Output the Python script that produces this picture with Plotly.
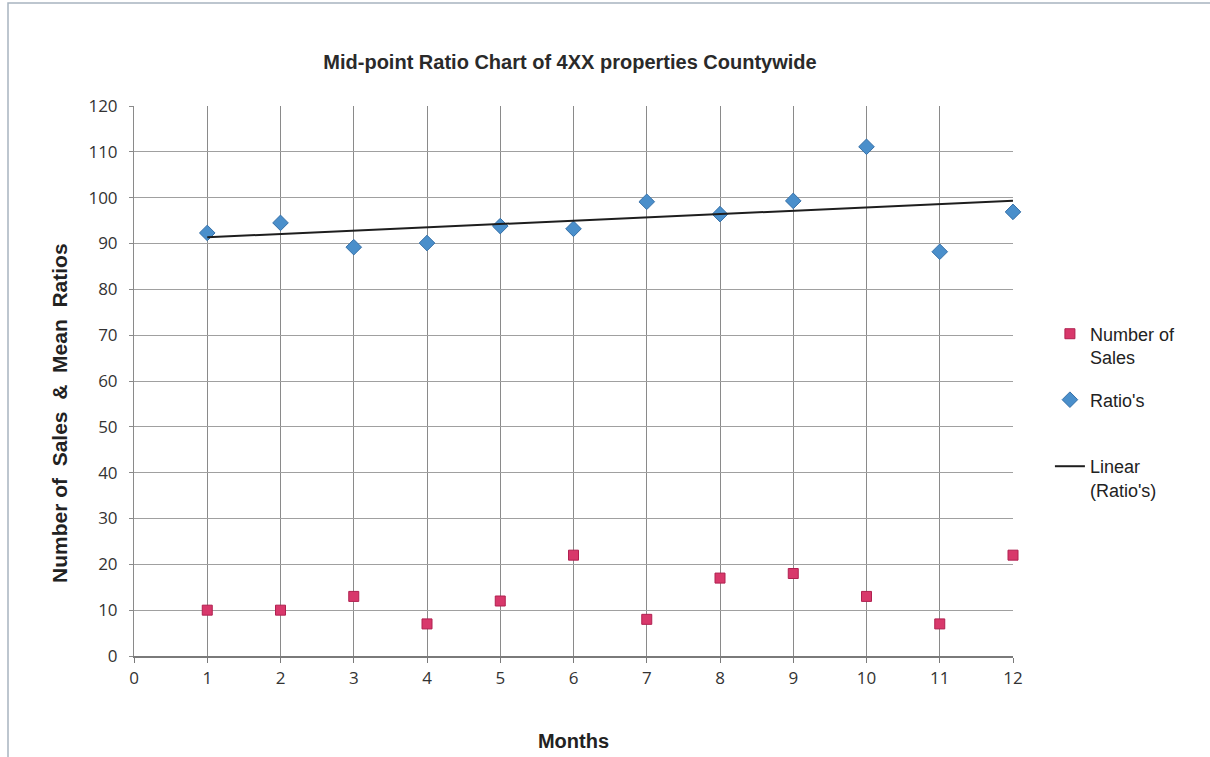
import plotly.graph_objects as go

# Monthly data
months = [1, 2, 3, 4, 5, 6, 7, 8, 9, 10, 11, 12]
number_of_sales = [10, 10, 13, 7, 12, 22, 8, 17, 18, 13, 7, 22]
ratios = [92.3, 94.5, 89.2, 90.1, 93.8, 93.2, 99.1, 96.4, 99.3, 111.1, 88.2, 96.9]

# Least-squares linear trend of the ratios
n = len(months)
mx = sum(months) / n
my = sum(ratios) / n
slope = sum((x - mx) * (y - my) for x, y in zip(months, ratios)) / sum((x - mx) ** 2 for x in months)
intercept = my - slope * mx
trend_x = [months[0], months[-1]]
trend_y = [intercept + slope * x for x in trend_x]

FONT = "Liberation Sans, Arial, sans-serif"
TICKFONT = "Open Sans, sans-serif"
NB = "\u00a0"

fig = go.Figure()
fig.add_trace(go.Scatter(
    x=months, y=number_of_sales, mode="markers", name="Number of<br>Sales",
    legend="legend", cliponaxis=False,
    marker=dict(symbol="square", size=10, color="#D8386B",
                line=dict(color="#B02050", width=1)),
))
fig.add_trace(go.Scatter(
    x=months, y=ratios, mode="markers", name="Ratio's",
    legend="legend2", cliponaxis=False,
    marker=dict(symbol="diamond", size=12, color="#4A8FCB",
                line=dict(color="#3670A8", width=1)),
))
fig.add_trace(go.Scatter(
    x=trend_x, y=trend_y, mode="lines", name="Linear<br>(Ratio's)",
    legend="legend3",
    line=dict(color="#1E1E1E", width=2),
))

legend_common = dict(
    x=1.042, xanchor="left", yanchor="middle", valign="top",
    font=dict(size=18, family=FONT, color="#222222"),
    bgcolor="rgba(0,0,0,0)",
)

fig.update_layout(
    width=1210, height=757,
    paper_bgcolor="white", plot_bgcolor="white",
    margin=dict(l=134, r=197, t=106, b=101, autoexpand=False),
    font=dict(family=FONT, color="#222222"),
    title=dict(
        text="<b>Mid-point Ratio Chart of 4XX properties Countywide</b>",
        x=570 / 1210, xanchor="center",
        y=1 - 62 / 757, yanchor="middle",
        font=dict(size=20, family=FONT, color="#2A2A2A"),
    ),
    showlegend=True,
    legend=dict(y=0.5645, **legend_common),
    legend2=dict(y=0.4655, **legend_common),
    legend3=dict(y=0.3236, **legend_common),
    xaxis=dict(
        range=[0, 12], dtick=1, tick0=0,
        showgrid=True, gridcolor="#8A8A8A", gridwidth=1,
        showline=True, linecolor="#7A7A7A", linewidth=2,
        ticks="outside", ticklen=5, tickcolor="#7A7A7A",
        zeroline=False, automargin=False,
        tickfont=dict(size=17, family=TICKFONT, color="#333333"),
        ticklabelstandoff=1,
        title=dict(text="<b>Months</b>", font=dict(size=20, family=FONT, color="#222222"),
                   standoff=46),
    ),
    yaxis=dict(
        range=[0, 120], dtick=10, tick0=0,
        showgrid=True, gridcolor="#A0A0A0", gridwidth=1,
        showline=True, linecolor="#8A8A8A", linewidth=1,
        ticks="outside", ticklen=4, tickcolor="#8A8A8A",
        zeroline=False, automargin=False,
        tickfont=dict(size=17, family=TICKFONT, color="#333333"),
        ticklabelstandoff=8,
    ),
)

# Vertical axis title, set a little below the plot centre
fig.add_annotation(
    text=f"<b>Number of{NB} Sales {NB}&{NB} Mean{NB} Ratios</b>",
    xref="paper", yref="paper",
    x=-74 / 879, y=(656 - 413) / 550, xanchor="center", yanchor="middle",
    textangle=-90, showarrow=False,
    font=dict(size=21, family=FONT, color="#222222"),
)

# Thin frame around the chart area
fig.add_shape(type="rect", xref="paper", yref="paper",
              x0=-126 / 879, x1=1.25, y0=-0.3, y1=1 + 103 / 550,
              line=dict(color="#A8B4C0", width=1.5), fillcolor="rgba(0,0,0,0)",
              layer="below")

fig.write_html("out.html")
